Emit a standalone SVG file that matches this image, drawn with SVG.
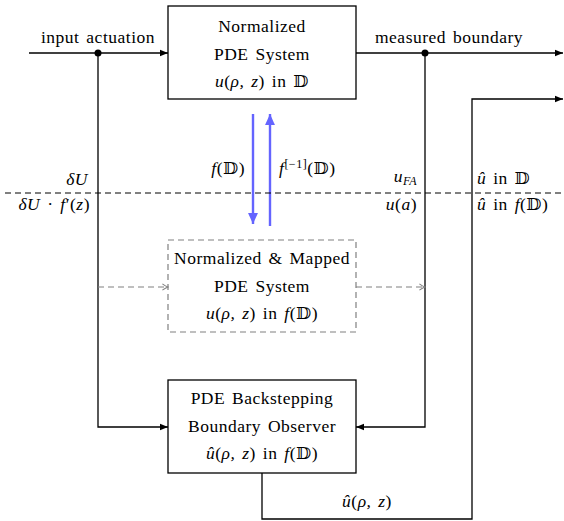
<svg xmlns="http://www.w3.org/2000/svg" width="564" height="521" viewBox="0 0 564 521" font-family="'Liberation Serif', 'DejaVu Serif', serif">
<style>
text{font-size:17.5px;letter-spacing:0.5px;word-spacing:2px;fill:#000}
.c{text-anchor:middle}
.r{text-anchor:end}
.i{font-style:italic}
.box{fill:#fff;stroke:#000;stroke-width:1.3}
.dbox{fill:none;stroke:#808080;stroke-width:1.2;stroke-dasharray:6,4}
.w{fill:none;stroke:#000;stroke-width:1.3}
.dw{fill:none;stroke:#808080;stroke-width:1.2;stroke-dasharray:6,4}
.sep{fill:none;stroke:#000;stroke-width:1;stroke-dasharray:6,4}
.bl{fill:none;stroke:#6464ff;stroke-width:2.4}
</style>
<defs>
<marker id="ah" viewBox="0 0 10 10" refX="10" refY="5" markerWidth="8" markerHeight="8" markerUnits="userSpaceOnUse" orient="auto"><path d="M0,1 L10,5 L0,9 Z" fill="#000"/></marker>
<marker id="ga" viewBox="0 0 10 10" refX="9" refY="5" markerWidth="8" markerHeight="8" markerUnits="userSpaceOnUse" orient="auto"><path d="M2,1 Q6,4 9,5 Q6,6 2,9" fill="none" stroke="#808080" stroke-width="1.3"/></marker>
<marker id="ba" viewBox="0 0 10 10" refX="10" refY="5" markerWidth="11" markerHeight="11" markerUnits="userSpaceOnUse" orient="auto"><path d="M0,0.5 L10,5 L0,9.5 Z" fill="#6464ff"/></marker>
</defs>

<g id="connectors">
<line class="w" x1="29" y1="53" x2="168" y2="53" marker-end="url(#ah)"/>
<line class="w" x1="356" y1="53" x2="563" y2="53" marker-end="url(#ah)"/>
<polyline class="w" points="98,53 98,427 168,427" marker-end="url(#ah)"/>
<polyline class="w" points="425,53 425,427 356,427" marker-end="url(#ah)"/>
<polyline class="w" points="262,473 262,519 472,519 472,99 563,99" marker-end="url(#ah)"/>
<line class="dw" x1="98" y1="287" x2="168" y2="287" marker-end="url(#ga)"/>
<line class="dw" x1="356" y1="287" x2="425" y2="287" marker-end="url(#ga)"/>
<line class="bl" x1="253" y1="114" x2="253" y2="224" marker-end="url(#ba)"/>
<line class="bl" x1="270" y1="226" x2="270" y2="114" marker-end="url(#ba)"/>
<circle cx="98" cy="53" r="3.5" fill="#000"/>
<circle cx="425" cy="53" r="3.5" fill="#000"/>
<line class="sep" x1="5" y1="193" x2="564" y2="193"/>
</g>

<g id="labels">
<text x="98" y="43" class="c">input actuation</text>
<text x="449" y="43" class="c">measured boundary</text>
<text x="245" y="174" class="r"><tspan class="i">f</tspan>(𝔻)</text>
<text x="279" y="174"><tspan class="i">f</tspan><tspan font-size="12" dy="-6">[−1]</tspan><tspan dy="6">(𝔻)</tspan></text>
<text x="88" y="185" class="r"><tspan class="i">δU</tspan></text>
<text x="90" y="210" class="r"><tspan class="i">δU</tspan> · <tspan class="i">f</tspan>′(<tspan class="i">z</tspan>)</text>
<text x="417" y="182" class="r"><tspan class="i">u</tspan><tspan class="i" font-size="12" dy="3">FA</tspan></text>
<text x="417" y="210" class="r"><tspan class="i">u</tspan>(<tspan class="i">a</tspan>)</text>
<text x="477" y="184"><tspan class="i">û</tspan> in 𝔻</text>
<text x="477" y="210"><tspan class="i">û</tspan> in <tspan class="i">f</tspan>(𝔻)</text>
<text x="367" y="507" class="c"><tspan class="i">û</tspan>(<tspan class="i">ρ, z</tspan>)</text>
</g>

<g id="plant">
<rect class="box" x="168" y="6" width="188" height="93"/>
<text x="262" y="32" class="c">Normalized</text>
<text x="262" y="60" class="c">PDE System</text>
<text x="262" y="87" class="c"><tspan class="i">u</tspan>(<tspan class="i">ρ, z</tspan>) in 𝔻</text>
</g>

<g id="mapped">
<rect class="dbox" x="168" y="240" width="188" height="92"/>
<text x="262" y="264" class="c">Normalized &amp; Mapped</text>
<text x="262" y="292" class="c">PDE System</text>
<text x="262" y="319" class="c"><tspan class="i">u</tspan>(<tspan class="i">ρ, z</tspan>) in <tspan class="i">f</tspan>(𝔻)</text>
</g>

<g id="observer">
<rect class="box" x="168" y="380" width="188" height="93"/>
<text x="262" y="404" class="c">PDE Backstepping</text>
<text x="262" y="432" class="c">Boundary Observer</text>
<text x="262" y="459" class="c"><tspan class="i">û</tspan>(<tspan class="i">ρ, z</tspan>) in <tspan class="i">f</tspan>(𝔻)</text>
</g>
</svg>
